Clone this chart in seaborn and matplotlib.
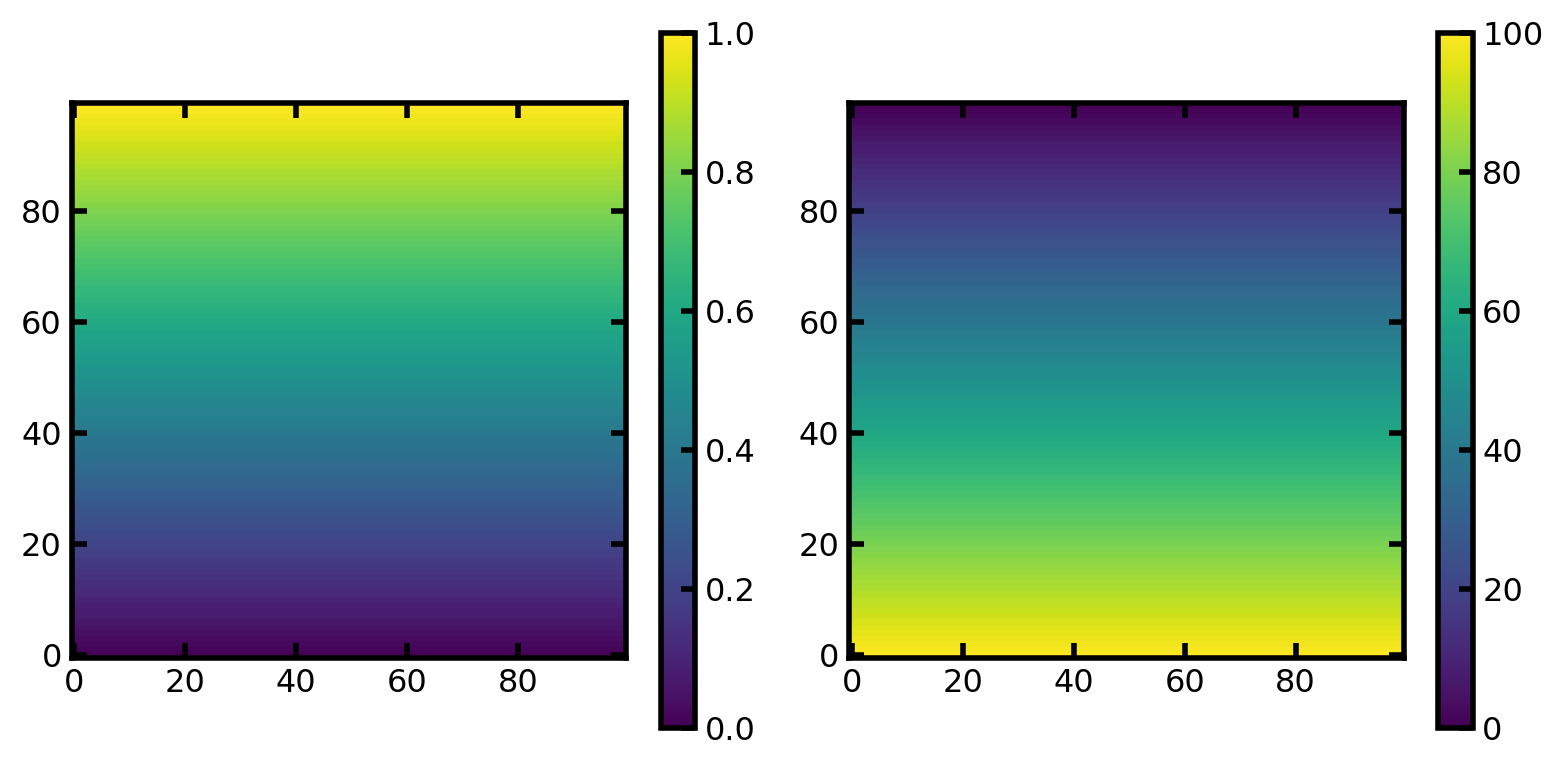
import matplotlib
matplotlib.use("Agg")
import matplotlib.pyplot as plt
import seaborn as sns
import numpy as np
import pandas as pd

# gradient images: 100 x 100 pixels, each row holds one value
n_rows = 100
n_cols = 100
left_range = (0.0, 1.0)      # bottom -> top
right_range = (100.0, 0.0)   # bottom -> top
ticks = [0, 20, 40, 60, 80]
left_cbar_ticks = [0.0, 0.2, 0.4, 0.6, 0.8, 1.0]
right_cbar_ticks = [0, 20, 40, 60, 80, 100]

sns.set_style("white")
plt.rcParams["font.family"] = ["DejaVu Sans"]
plt.rcParams["font.size"] = 11.5
plt.rcParams["axes.axisbelow"] = False
plt.rcParams["text.color"] = "black"
plt.rcParams["xtick.labelcolor"] = "black"
plt.rcParams["ytick.labelcolor"] = "black"


def gradient(lo, hi):
    col = np.linspace(lo, hi, n_rows)
    return pd.DataFrame(np.repeat(col[:, None], n_cols, axis=1))


fig = plt.figure(figsize=(7.83, 3.84), dpi=200)
ax_l = fig.add_axes([0.04566, 0.1432, 0.3544, 0.7233])
cax_l = fig.add_axes([0.4221, 0.0521, 0.0217, 0.905])
ax_r = fig.add_axes([0.5421, 0.1432, 0.3544, 0.7233])
cax_r = fig.add_axes([0.9183, 0.0521, 0.0220, 0.905])

panels = [
    (ax_l, cax_l, gradient(*left_range), left_cbar_ticks, "{:.1f}"),
    (ax_r, cax_r, gradient(*right_range), right_cbar_ticks, "{:.0f}"),
]

for ax, cax, df, cticks, fmt in panels:
    sns.heatmap(df, ax=ax, cbar_ax=cax, cmap="viridis", xticklabels=False,
                yticklabels=False, linewidths=0)
    ax.invert_yaxis()
    ax.set_xlim(0, n_cols)
    ax.set_ylim(0, n_rows)
    ax.set_xticks([t + 0.5 for t in ticks])
    ax.set_xticklabels([str(t) for t in ticks])
    ax.set_yticks([t + 0.5 for t in ticks])
    ax.set_yticklabels([str(t) for t in ticks], rotation=0)
    ax.set_xlabel("")
    ax.set_ylabel("")
    ax.set_axisbelow(False)
    for s in ax.spines.values():
        s.set_visible(True)
        s.set_linewidth(2)
        s.set_color("black")
    ax.tick_params(direction="in", length=5.5, width=2, top=True, right=True,
                   bottom=True, left=True, pad=3.5, labelsize=11.5,
                   color="black", labelcolor="black")

    cb = ax.collections[0].colorbar
    cb.outline.set_visible(True)
    cb.outline.set_linewidth(2)
    cb.outline.set_edgecolor("black")
    cb.set_ticks(cticks)
    cb.set_ticklabels([fmt.format(t) for t in cticks])
    cax.set_axisbelow(False)
    cax.tick_params(direction="in", length=5, width=2, right=True, left=False,
                    labelsize=11.5, pad=3.5, color="black", labelcolor="black")

fig.savefig("out.png", dpi=200)
